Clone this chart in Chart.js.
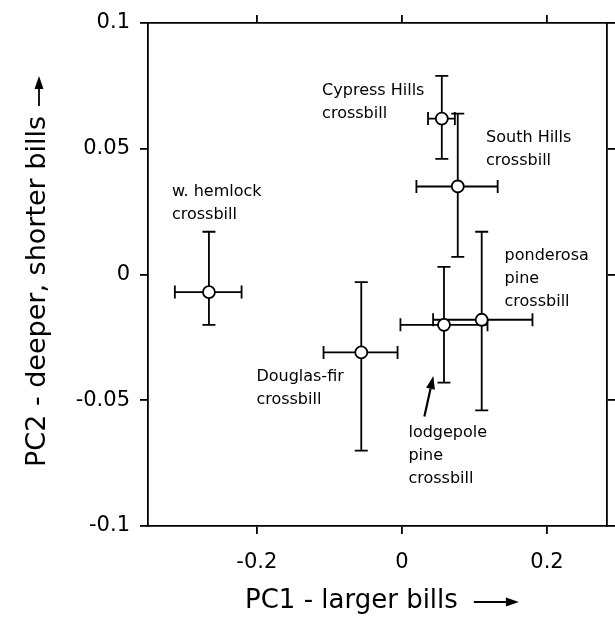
<!DOCTYPE html>
<html lang="en">

<head>
    <meta charset="UTF-8">
    <title>Crossbill bill shape PCA</title>
    <script src="https://cdn.jsdelivr.net/npm/chart.js"></script>
    <style>
        body { margin: 0; background: #fff; }
    </style>
</head>

<body>
    <canvas id="pcaChart" width="615" height="618"></canvas>
    <script>
        // crossbill call types, PC scores with error ranges
        const birds = ['w. hemlock', 'Douglas-fir', 'Cypress Hills', 'South Hills', 'lodgepole pine', 'ponderosa pine'];
        const pc1 = [-0.266, -0.056, 0.055, 0.077, 0.058, 0.110];
        const pc2 = [-0.007, -0.031, 0.062, 0.035, -0.020, -0.018];
        const pc1Low = [-0.313, -0.108, 0.036, 0.020, -0.002, 0.043];
        const pc1High = [-0.221, -0.006, 0.073, 0.132, 0.118, 0.180];
        const pc2Low = [-0.020, -0.070, 0.046, 0.007, -0.043, -0.054];
        const pc2High = [0.017, -0.003, 0.079, 0.064, 0.003, 0.017];

        const xTicks = [-0.2, 0, 0.2];
        const yTicks = [-0.1, -0.05, 0, 0.05, 0.1];

        // text labels next to the points (data coords of first line, left edge)
        const labelLines = [
            ['w. hemlock', 'crossbill'],
            ['Cypress Hills', 'crossbill'],
            ['South Hills', 'crossbill'],
            ['ponderosa', 'pine', 'crossbill'],
            ['Douglas-fir', 'crossbill'],
            ['lodgepole', 'pine', 'crossbill']
        ];
        const labelX = [-0.317, -0.110, 0.116, 0.1415, -0.2006, 0.009];
        const labelY = [0.0329, 0.0731, 0.0543, 0.0074, -0.0406, -0.0629];

        const xTitle = 'PC1 - larger bills';
        const yTitle = 'PC2 - deeper, shorter bills';

        const FONT = '"DejaVu Sans", Verdana, sans-serif';

        function drawArrow(ctx, x1, y1, x2, y2) {
            const ang = Math.atan2(y2 - y1, x2 - x1);
            const hl = 13, hw = 4.5;
            ctx.beginPath();
            ctx.moveTo(x1, y1);
            ctx.lineTo(x2 - hl * Math.cos(ang), y2 - hl * Math.sin(ang));
            ctx.stroke();
            ctx.beginPath();
            ctx.moveTo(x2, y2);
            ctx.lineTo(x2 - hl * Math.cos(ang) + hw * Math.sin(ang), y2 - hl * Math.sin(ang) - hw * Math.cos(ang));
            ctx.lineTo(x2 - hl * Math.cos(ang) - hw * Math.sin(ang), y2 - hl * Math.sin(ang) + hw * Math.cos(ang));
            ctx.closePath();
            ctx.fill();
        }

        const errorBars = {
            id: 'errorBars',
            beforeDatasetsDraw(chart) {
                const { ctx, scales: { x, y } } = chart;
                const cap = 6.5;
                ctx.save();
                ctx.strokeStyle = '#000';
                ctx.lineWidth = 1.8;
                pc1.forEach((v, i) => {
                    const px = x.getPixelForValue(v), py = y.getPixelForValue(pc2[i]);
                    const xl = x.getPixelForValue(pc1Low[i]), xh = x.getPixelForValue(pc1High[i]);
                    const yl = y.getPixelForValue(pc2Low[i]), yh = y.getPixelForValue(pc2High[i]);
                    ctx.beginPath();
                    ctx.moveTo(xl, py); ctx.lineTo(xh, py);
                    ctx.moveTo(xl, py - cap); ctx.lineTo(xl, py + cap);
                    ctx.moveTo(xh, py - cap); ctx.lineTo(xh, py + cap);
                    ctx.moveTo(px, yl); ctx.lineTo(px, yh);
                    ctx.moveTo(px - cap, yl); ctx.lineTo(px + cap, yl);
                    ctx.moveTo(px - cap, yh); ctx.lineTo(px + cap, yh);
                    ctx.stroke();
                });
                ctx.restore();
            }
        };

        const annotations = {
            id: 'annotations',
            afterDraw(chart) {
                const { ctx, scales: { x, y } } = chart;
                ctx.save();
                ctx.fillStyle = '#000';
                ctx.strokeStyle = '#000';
                ctx.textBaseline = 'middle';
                ctx.textAlign = 'left';
                ctx.font = '16px ' + FONT;
                labelLines.forEach((lines, i) => {
                    const lx = x.getPixelForValue(labelX[i]);
                    const ly = y.getPixelForValue(labelY[i]);
                    lines.forEach((t, k) => ctx.fillText(t, lx, ly + k * 23));
                });
                // pointer to the lodgepole pine point
                ctx.lineWidth = 2.2;
                drawArrow(ctx, x.getPixelForValue(0.031), y.getPixelForValue(-0.0565),
                    x.getPixelForValue(0.0433), y.getPixelForValue(-0.0404));

                // axis titles with arrows
                ctx.font = '26px ' + FONT;
                ctx.lineWidth = 1.8;
                const xw = ctx.measureText(xTitle).width;
                const xs = 245, xy = 601;
                ctx.fillText(xTitle, xs, xy);
                drawArrow(ctx, xs + xw + 16, xy + 1, xs + xw + 61, xy + 1);

                ctx.font = '27px ' + FONT;
                const yw = ctx.measureText(yTitle).width;
                const ys = 467, yx = 38;
                ctx.translate(yx, ys);
                ctx.rotate(-Math.PI / 2);
                ctx.fillText(yTitle, 0, 0);
                drawArrow(ctx, yw + 10, 1, yw + 40, 1);
                ctx.restore();
            }
        };

        function axisOpts(position, ticks, min, max, showLabels, size) {
            return {
                type: 'linear',
                position: position,
                min: min,
                max: max,
                afterBuildTicks: s => { s.ticks = ticks.map(v => ({ value: v })); },
                afterFit: s => {
                    if (position === 'top' || position === 'bottom') s.height = size;
                    else s.width = size;
                },
                grid: { drawOnChartArea: false, drawTicks: true, tickLength: 8, color: '#000', lineWidth: 1.8 },
                border: { display: true, color: '#000', width: 1.8 },
                ticks: {
                    display: showLabels,
                    color: '#000',
                    padding: position === 'bottom' ? 16 : 10,
                    font: { family: FONT, size: 21 },
                    callback: v => String(v)
                }
            };
        }

        function renderChart() {
            const ctx = document.getElementById('pcaChart').getContext('2d');
            new Chart(ctx, {
                type: 'scatter',
                data: {
                    labels: birds,
                    datasets: [{
                        label: 'crossbills',
                        data: pc1.map((v, i) => ({ x: v, y: pc2[i] })),
                        pointRadius: 6,
                        pointBackgroundColor: '#fff',
                        pointBorderColor: '#000',
                        pointBorderWidth: 1.8
                    }]
                },
                options: {
                    responsive: false,
                    animation: false,
                    layout: { padding: 0 },
                    plugins: {
                        legend: { display: false },
                        tooltip: { enabled: false }
                    },
                    scales: {
                        x: axisOpts('bottom', xTicks, -0.35, 0.283, true, 92),
                        x2: axisOpts('top', xTicks, -0.35, 0.283, false, 23),
                        y: axisOpts('left', yTicks, -0.1, 0.1, true, 148),
                        y2: axisOpts('right', yTicks, -0.1, 0.1, false, 5)
                    }
                },
                plugins: [errorBars, annotations]
            });
        }

        document.addEventListener('DOMContentLoaded', renderChart);
    </script>
</body>
</html>
